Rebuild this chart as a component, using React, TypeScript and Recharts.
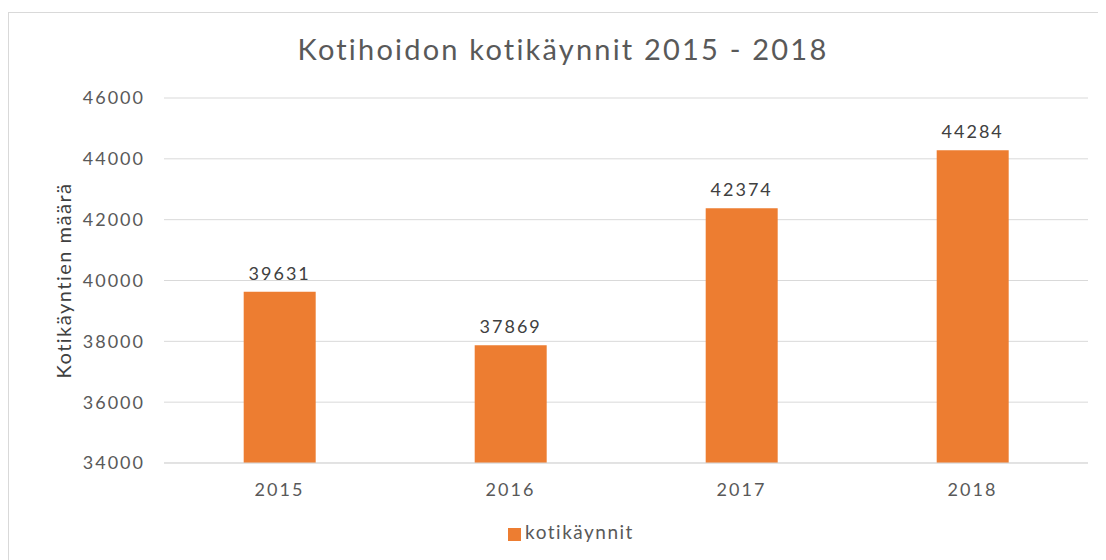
import React from 'react';
import { BarChart, Bar, XAxis, YAxis, CartesianGrid, Legend, LabelList } from 'recharts';

const years = ['2015', '2016', '2017', '2018'];
const visits = [39631, 37869, 42374, 44284];
const yTicks = [34000, 36000, 38000, 40000, 42000, 44000, 46000];

const data = years.map((year, i) => ({ year, kotikaynnit: visits[i] }));

const font = 'Lato, "Open Sans", sans-serif';
const tickStyle = { fill: '#595959', fontSize: 18, fontFamily: font, letterSpacing: 2 };

const App = () => {
  return (
    <div
      style={{
        position: 'relative',
        marginTop: 4,
        width: 1100,
        height: 560,
        border: '1px solid #d9d9d9',
        background: '#fff',
        fontFamily: font,
        overflow: 'hidden',
      }}
    >
      <div
        style={{
          position: 'absolute',
          top: 18,
          left: 0,
          width: 1108,
          textAlign: 'center',
          fontSize: 29,
          letterSpacing: 2.2,
          color: '#595959',
        }}
      >
        Kotihoidon kotikäynnit 2015 - 2018
      </div>
      <BarChart
        width={1097}
        height={547}
        data={data}
        margin={{ top: 85, right: 18, left: 55, bottom: 17 }}
        barCategoryGap="34.5%"
      >
        <CartesianGrid vertical={false} stroke="#d9d9d9" />
        <XAxis
          dataKey="year"
          axisLine={{ stroke: '#d9d9d9' }}
          tickLine={false}
          tick={tickStyle}
          tickMargin={14}
          height={57}
        />
        <YAxis
          domain={[34000, 46000]}
          ticks={yTicks}
          interval={0}
          axisLine={false}
          tickLine={false}
          tickSize={0}
          tickMargin={19}
          width={100}
          tick={tickStyle}
          label={{
            value: 'Kotikäyntien määrä',
            angle: -90,
            position: 'insideLeft',
            offset: 0,
            style: { fill: '#404040', fontSize: 20, letterSpacing: 1.5, fontFamily: font, textAnchor: 'middle' },
          }}
        />
        <Legend
          verticalAlign="bottom"
          iconType="square"
          iconSize={13}
          formatter={(value) => (
            <span style={{ color: '#595959', fontSize: 19, letterSpacing: 1.5, fontFamily: font }}>{value}</span>
          )}
        />
        <Bar dataKey="kotikaynnit" name="kotikäynnit" fill="#ED7D31" isAnimationActive={false}>
          <LabelList
            dataKey="kotikaynnit"
            position="top"
            offset={12}
            fill="#404040"
            fontSize={18}
            fontFamily={font}
            style={{ letterSpacing: 2 }}
          />
        </Bar>
      </BarChart>
    </div>
  );
};

export default App;
